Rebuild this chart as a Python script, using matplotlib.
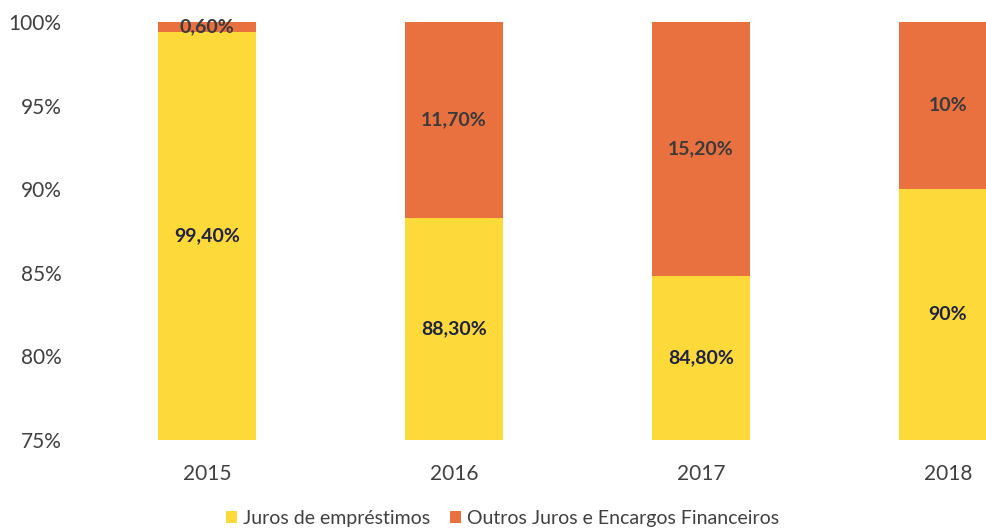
import matplotlib
matplotlib.use('Agg')
import numpy as np
import matplotlib.pyplot as plt

# data
anos = ['2015', '2016', '2017', '2018']
juros_emprestimos = [99.4, 88.3, 84.8, 90.0]
outros_juros = [0.6, 11.7, 15.2, 10.0]
rotulos_juros = ['99,40%', '88,30%', '84,80%', '90%']
rotulos_outros = ['0,60%', '11,70%', '15,20%', '10%']

amarelo = '#FDD93A'
laranja = '#E9703F'
texto = '#1F2340'

plt.rcParams['font.family'] = ['Lato', 'DejaVu Sans']

fig = plt.figure(figsize=(9.87, 5.30), dpi=100)
ax = fig.add_axes([0.0846, 0.1698, 1.001, 0.7887])

x = np.arange(len(anos))
ymin = 75
b1 = ax.bar(x, juros_emprestimos, width=0.4, color=amarelo, label='Juros de empréstimos')
b2 = ax.bar(x, outros_juros, width=0.4, bottom=juros_emprestimos, color=laranja,
            label='Outros Juros e Encargos Financeiros')

for i in range(len(anos)):
    y1 = (ymin + juros_emprestimos[i]) / 2
    ax.text(x[i], y1, rotulos_juros[i], ha='center', va='center',
            fontsize=14, fontweight='bold', color=texto)
    y2 = juros_emprestimos[i] + outros_juros[i] / 2
    ax.text(x[i], y2, rotulos_outros[i], ha='center', va='center',
            fontsize=14, fontweight='bold', color='#3a3a3a')

ax.set_xlim(-0.5, 3.5)
ax.set_ylim(ymin, 100)
ax.set_yticks([75, 80, 85, 90, 95, 100])
ax.set_yticklabels(['75%', '80%', '85%', '90%', '95%', '100%'])
ax.set_xticks(x)
ax.set_xticklabels(anos)
ax.tick_params(axis='y', length=0, pad=16, labelsize=15, labelcolor='#404040')
ax.tick_params(axis='x', length=0, pad=17, labelsize=15, labelcolor='#404040')
for s in ax.spines.values():
    s.set_visible(False)

fig.legend(handles=[b1, b2], loc='center', bbox_to_anchor=(0.509, 0.022),
           ncol=2, frameon=False, fontsize=14, handlelength=0.6, handleheight=0.6,
           handletextpad=0.3, columnspacing=1.0, labelcolor='#404040')

plt.savefig('out.png', dpi=100)
